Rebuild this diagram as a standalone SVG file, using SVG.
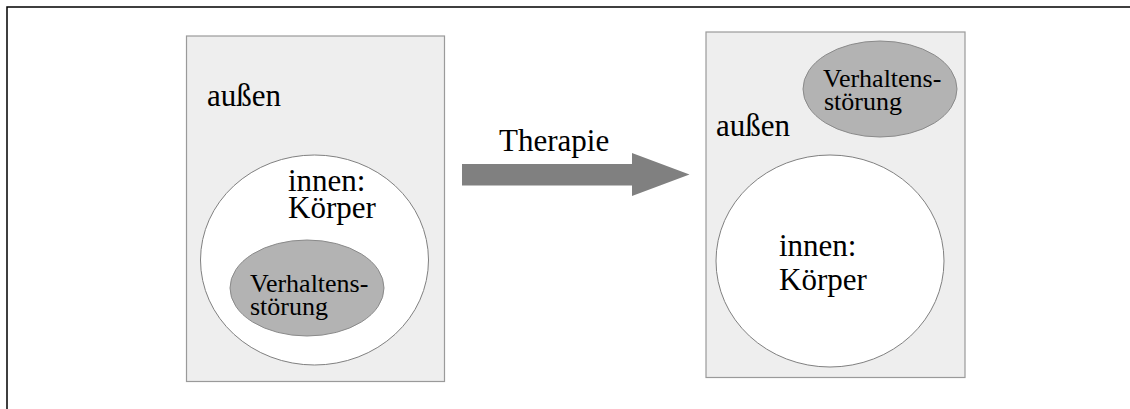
<svg xmlns="http://www.w3.org/2000/svg" width="1130" height="409" viewBox="0 0 1130 409">
<style>
.box{fill:#eeeeee;stroke:#9a9a9a;stroke-width:1.2}
.inner{fill:#ffffff;stroke:#808080;stroke-width:1}
.dis{fill:#b3b3b3;stroke:#8a8a8a;stroke-width:1}
.t{font-family:"Liberation Serif","Times New Roman",serif;fill:#000}
.big{font-size:31px}
.sm{font-size:26px}
</style>
<rect width="1130" height="409" fill="#ffffff"/>
<g id="frame">
<path d="M7 409 V7 H1130" fill="none" stroke="#000" stroke-width="1.5"/>
</g>
<g id="left">
<rect class="box" x="186.5" y="36" width="258" height="345.5"/>
<text class="t big" x="207" y="106">außen</text>
<ellipse class="inner" cx="314.5" cy="260" rx="114" ry="105"/>
<text class="t big" x="288" y="190.5">innen:<tspan x="288" y="218">Körper</tspan></text>
<ellipse class="dis" cx="307" cy="288" rx="77" ry="48"/>
<text class="t sm" x="250" y="291.5">Verhaltens-<tspan x="250" y="315">störung</tspan></text>
</g>
<g id="connectors">
<polygon points="462,164 632,164 632,153 689.5,174.5 632,196 632,185.5 462,185.5" fill="#808080"/>
<text class="t big" x="499" y="150.5">Therapie</text>
</g>
<g id="right">
<rect class="box" x="706" y="32" width="259" height="345.5"/>
<ellipse class="dis" cx="880" cy="89" rx="77" ry="48"/>
<text class="t sm" x="823" y="86.5">Verhaltens-<tspan x="824" y="110">störung</tspan></text>
<text class="t big" x="716" y="135.5">außen</text>
<ellipse class="inner" cx="830" cy="261" rx="114" ry="106"/>
<text class="t big" x="779" y="256">innen:<tspan x="779" y="290">Körper</tspan></text>
</g>
</svg>
